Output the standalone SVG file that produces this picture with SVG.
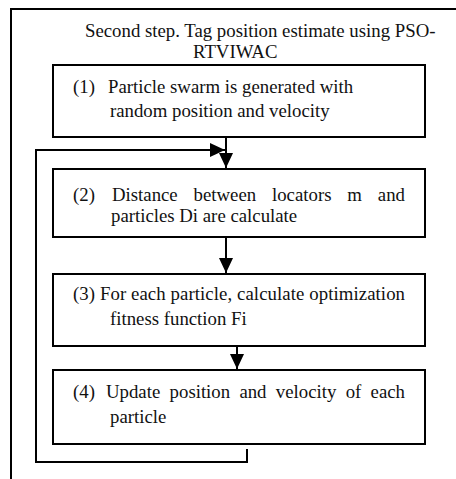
<svg xmlns="http://www.w3.org/2000/svg" width="456" height="479" viewBox="0 0 456 479">
  <defs>
    <style>
      .frame { fill: none; stroke: #000; stroke-width: 2; }
      .box { fill: #fff; stroke: #000; stroke-width: 2; }
      .wire { fill: none; stroke: #000; stroke-width: 2; }
      .t { font-family: 'Liberation Serif', 'Times New Roman', serif; font-size: 18.8px; fill: #111; }
    </style>
    <marker id="head" markerUnits="userSpaceOnUse" markerWidth="16" markerHeight="15" refX="15" refY="7" orient="auto">
      <path d="M0,0 L15,7 L0,14 z" fill="#000"/>
    </marker>
  </defs>
  <rect width="456" height="479" fill="#fff"/>

  <!-- outer frame (open to the right and bottom) -->
  <path class="frame" d="M11,479 V9 H456"/>

  <g id="title" class="t">
    <text x="85" y="37">Second step. Tag position estimate using PSO-</text>
    <text x="193" y="58">RTVIWAC</text>
  </g>

  <g id="step1" class="t">
    <rect class="box" x="53" y="65" width="372" height="72"/>
    <text x="73" y="93">(1)</text>
    <text x="108" y="93">Particle swarm is generated with</text>
    <text x="110" y="117">random position and velocity</text>
  </g>

  <!-- justified first lines are set word by word -->
  <g id="step2" class="t">
    <rect class="box" x="53" y="169" width="372" height="68"/>
    <text y="201"><tspan x="73">(2)</tspan><tspan x="112">Distance</tspan><tspan x="193.6">between</tspan><tspan x="272">locators</tspan><tspan x="347.3">m</tspan><tspan x="377.8">and</tspan></text>
    <text x="111" y="222">particles Di are calculate</text>
  </g>

  <g id="step3" class="t">
    <rect class="box" x="53" y="274" width="372" height="72"/>
    <text x="73" y="300" textLength="332" lengthAdjust="spacing">(3) For each particle, calculate optimization</text>
    <text x="110" y="325">fitness function Fi</text>
  </g>

  <g id="step4" class="t">
    <rect class="box" x="53" y="370" width="372" height="74"/>
    <text y="398"><tspan x="73">(4)</tspan><tspan x="106">Update</tspan><tspan x="169.6">position</tspan><tspan x="239.4">and</tspan><tspan x="275.8">velocity</tspan><tspan x="345.7">of</tspan><tspan x="370.6">each</tspan></text>
    <text x="110" y="423">particle</text>
  </g>

  <g id="connectors">
    <path class="wire" d="M226,137 V168" marker-end="url(#head)"/>
    <path class="wire" d="M226,237 V273" marker-end="url(#head)"/>
    <path class="wire" d="M237,346 V369" marker-end="url(#head)"/>
    <!-- loop back from step 4 to the entry of step 2 -->
    <path class="wire" d="M247,449 V462 H36 V150 H225" marker-end="url(#head)"/>
  </g>
</svg>
